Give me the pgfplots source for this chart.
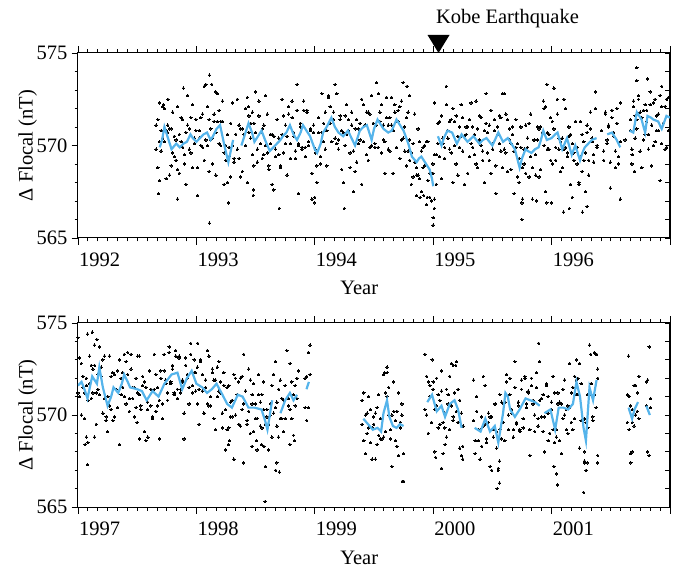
\documentclass[border=0pt]{standalone}
\usepackage{pgfplots}
\pgfplotsset{compat=1.18}
\usepackage{pgfplotstable}
\usepackage{fontspec}
\setmainfont{Liberation Serif}
\definecolor{runblue}{RGB}{85,180,235}

% ---------------- top panel: daily values (two per row) ----------------
\pgfplotstableread{
x a b
1992.660 571.1 569.8
1992.674 568.8 571.4
1992.688 570.2 568.1
1992.702 569.7 570.8
1992.716 572.1 570.4
1992.730 570.2 572.0
1992.744 570.8 568.2
1992.758 571.1 570.7
1992.772 568.4 570.9
1992.786 570.9 568.9
1992.800 569.6 571.8
1992.814 570.5 569.4
1992.828 569.2 570.3
1992.842 572.1 568.7
1992.856 568.5 570.6
1992.870 570.2 571.5
1992.884 571.4 569.9
1992.898 569.5 569.0
1992.912 567.9 570.7
1992.926 571.1 572.7
1992.940 570.9 569.8
1992.954 569.6 571.5
1992.968 572.2 568.8
1992.982 570.1 570.4
1992.996 570.8 571.4
1993.010 568.8 567.3
1993.024 570.4 570.8
1993.038 571.5 570.0
1993.052 569.9 571.7
1993.066 573.2 569.2
1993.080 570.3 573.3
1993.094 572.1 570.0
1993.108 568.6 571.4
1993.122 570.9 570.3
1993.136 570.4 569.0
1993.150 571.7 571.3
1993.164 568.4 570.7
1993.178 571.3 572.8
1993.192 571.9 570.1
1993.206 570.0 571.3
1993.220 572.4 571.3
1993.234 569.6 567.9
1993.248 570.0 569.2
1993.262 568.0 570.6
1993.276 569.9 569.4
1993.290 571.2 568.3
1993.304 570.0 572.3
1993.318 569.1 569.3
1993.332 570.6 570.6
1993.346 572.5 569.8
1993.360 569.3 571.1
1993.374 570.9 568.3
1993.388 568.6 570.9
1993.402 570.6 570.6
1993.416 572.0 570.0
1993.430 568.0 572.6
1993.444 571.6 570.7
1993.458 570.4 571.2
1993.472 571.8 569.5
1993.486 568.9 571.2
1993.500 572.9 570.7
1993.514 569.8 569.1
1993.528 571.6 572.4
1993.542 570.7 570.1
1993.556 569.3 570.9
1993.570 571.1 569.5
1993.584 570.0 572.7
1993.598 571.7 569.6
1993.612 568.7 568.9
1993.626 570.1 570.6
1993.640 570.6 567.9
1993.654 567.6 570.5
1993.668 569.4 569.8
1993.682 571.4 571.4
1993.696 570.4 569.5
1993.710 568.9 568.8
1993.724 572.5 570.6
1993.738 569.6 571.6
1993.752 571.1 570.1
1993.766 570.5 568.4
1993.780 572.1 571.7
1993.794 569.3 570.1
1993.808 571.5 572.4
1993.822 570.7 570.5
1993.836 569.7 569.3
1993.850 571.9 573.3
1993.864 570.0 570.1
1993.878 571.0 571.2
1993.892 569.8 569.9
1993.906 571.9 572.4
1993.920 569.9 569.4
1993.934 571.9 571.8
1993.948 570.2 570.0
1993.962 570.9 570.8
1993.976 568.5 567.1
1993.990 570.7 571.1
1994.004 569.6 569.8
1994.018 568.9 568.0
1994.032 571.5 570.7
1994.046 569.0 569.4
1994.060 570.7 572.8
1994.074 570.2 571.2
1994.088 571.8 569.8
1994.102 568.9 570.8
1994.116 572.6 572.7
1994.130 571.2 572.1
1994.144 570.2 570.2
1994.158 571.8 571.4
1994.172 573.3 570.4
1994.186 570.1 572.8
1994.200 570.3 569.8
1994.214 571.6 571.4
1994.228 568.7 570.8
1994.242 570.7 568.0
1994.256 570.0 571.6
1994.270 572.2 570.6
1994.284 570.8 571.4
1994.298 569.6 568.8
1994.312 571.1 571.8
1994.326 567.5 569.7
1994.340 568.6 570.9
1994.354 571.4 569.1
1994.368 570.1 570.9
1994.382 571.2 570.3
1994.396 567.9 572.5
1994.410 572.2 570.2
1994.424 571.1 571.1
1994.438 569.5 571.8
1994.452 571.8 569.2
1994.466 569.9 571.7
1994.480 572.7 570.0
1994.494 571.2 571.2
1994.508 569.9 570.1
1994.522 571.1 573.4
1994.536 572.8 569.9
1994.550 571.8 571.3
1994.564 569.6 572.2
1994.578 571.1 570.3
1994.592 570.2 568.5
1994.606 572.6 571.5
1994.620 569.8 571.1
1994.634 571.5 569.7
1994.648 571.1 572.6
1994.662 568.5 570.8
1994.676 572.2 571.8
1994.690 571.3 569.9
1994.704 571.9 571.3
1994.718 569.3 572.1
1994.732 572.4 570.3
1994.746 570.4 573.4
1994.760 571.0 569.7
1994.774 568.9 571.5
1994.788 571.8 569.7
1994.802 569.2 570.3
1994.816 569.6 567.9
1994.830 568.3 570.1
1994.844 571.7 569.1
1994.858 568.8 568.4
1994.872 568.4 570.9
1994.886 570.2 568.2
1994.900 567.5 569.7
1994.914 569.9 568.8
1994.928 568.9 570.0
1994.942 570.2 566.8
1994.956 568.1 570.2
1994.970 567.2 568.5
1994.984 568.5 567.0
1994.998 569.0 568.5
1995.012 569.5 572.3
1995.026 567.9 569.5
1995.040 571.2 570.1
1995.054 569.4 571.3
1995.068 571.6 568.2
1995.082 570.1 570.4
1995.096 569.3 569.9
1995.110 573.2 572.2
1995.124 570.4 570.8
1995.138 571.3 569.8
1995.152 569.6 571.4
1995.166 572.0 568.0
1995.180 571.3 570.0
1995.194 569.0 571.6
1995.208 570.5 568.4
1995.222 569.9 571.0
1995.236 572.2 570.5
1995.250 569.7 571.5
1995.264 570.5 567.9
1995.278 571.0 570.6
1995.292 568.5 571.0
1995.306 571.4 569.4
1995.320 570.1 572.3
1995.334 571.0 569.9
1995.348 569.5 570.6
1995.362 572.4 569.0
1995.376 568.8 570.9
1995.390 570.3 571.6
1995.404 571.5 570.0
1995.418 569.7 569.2
1995.432 568.0 570.8
1995.446 571.2 572.8
1995.460 570.7 569.6
1995.474 569.2 571.1
1995.488 571.9 568.5
1995.502 569.8 570.1
1995.516 570.8 571.4
1995.530 568.9 567.4
1995.544 570.6 571.0
1995.558 571.6 570.1
1995.572 569.7 571.5
1995.586 572.8 568.8
1995.600 569.8 572.8
1995.614 571.7 569.6
1995.628 568.6 571.4
1995.642 570.9 570.3
1995.656 570.1 568.7
1995.670 571.0 570.6
1995.684 567.4 569.7
1995.698 569.9 571.4
1995.712 570.1 568.3
1995.726 568.0 569.3
1995.740 571.0 569.9
1995.754 568.8 567.1
1995.768 569.8 569.0
1995.782 568.5 571.1
1995.796 570.4 569.9
1995.810 571.2 568.3
1995.824 569.4 571.7
1995.838 567.1 568.8
1995.852 570.3 570.3
1995.866 568.4 569.5
1995.880 570.3 571.0
1995.894 570.9 568.3
1995.908 568.7 571.0
1995.922 570.7 570.7
1995.936 572.0 570.0
1995.950 567.5 572.1
1995.964 570.7 569.8
1995.978 569.8 570.6
1995.992 571.5 569.2
1996.006 569.0 571.3
1996.020 573.1 570.9
1996.034 569.9 569.2
1996.048 571.7 572.5
1996.062 570.4 569.8
1996.076 568.6 570.2
1996.090 570.4 568.8
1996.104 569.8 572.5
1996.118 572.0 569.9
1996.132 569.4 569.6
1996.146 570.5 571.0
1996.160 570.6 567.9
1996.174 567.2 570.1
1996.188 569.2 569.6
1996.202 571.3 571.3
1996.216 569.9 569.0
1996.230 568.0 567.9
1996.244 571.3 569.4
1996.258 568.6 570.6
1996.272 570.2 569.2
1996.286 569.6 567.5
1996.300 571.1 570.7
1996.314 568.4 569.2
1996.328 570.9 571.8
1996.342 570.4 570.2
1996.356 569.5 569.1
1996.370 572.0 572.9
1996.384 569.9 570.0
1996.440 569.7 569.2
1996.454 571.8 571.7
1996.468 570.3 570.1
1996.482 571.1 571.0
1996.496 569.1 567.7
1996.510 571.5 571.9
1996.524 570.5 570.7
1996.538 569.7 568.8
1996.552 572.0 571.2
1996.566 569.0 569.4
1996.580 570.2 572.3
1996.664 570.8 571.4
1996.678 569.8 569.0
1996.692 572.4 572.1
1996.706 570.4 571.6
1996.720 571.4 570.9
1996.734 572.7 572.5
1996.748 569.7 571.8
1996.762 571.5 568.8
1996.776 570.3 571.9
1996.790 572.2 570.6
1996.804 571.3 571.9
1996.818 570.6 569.8
1996.832 572.2 572.9
1996.846 568.9 571.1
1996.860 570.0 572.3
1996.874 572.5 570.2
1996.888 570.8 571.6
1996.902 571.7 570.8
1996.916 568.1 572.7
1996.930 572.1 570.1
1996.944 571.2 571.2
1996.958 569.8 572.1
1996.972 572.5 569.9
1996.986 570.8 572.6
}\topblack

\pgfplotstableread{
x y
1992.69 572.3
1992.72 572.2
1992.76 572.5
1992.68 567.4
1992.84 567.1
1992.89 573.1
1993.11 573.8
1993.13 573.3
1993.16 572.9
1993.11 565.8
1993.27 566.9
1993.44 572.1
1993.48 567.6
1993.48 567.3
1993.70 566.6
1993.86 567.4
1994.00 567.2
1994.00 566.9
1994.25 566.6
1994.78 573.2
1994.80 572.7
1994.86 567.3
1994.89 567.2
1994.92 567.3
1994.95 567.2
1995.00 565.7
1995.00 566.1
1995.01 566.6
1995.01 567.1
1995.75 566.9
1995.75 566.0
1995.87 567.0
1995.96 566.9
1996.00 566.9
1996.10 566.4
1996.15 566.6
1996.26 566.4
1996.30 566.7
1996.58 567.1
1995.96 573.3
1995.93 572.4
1996.72 574.2
1996.72 573.5
1996.81 573.6
1996.93 573.2
1996.70 568.6
1996.68 569.5
1996.42 570.8
1996.62 570.3
}\topout

\pgfplotstableread{
x y
1992.69 569.9
1992.71 570.3
1992.73 571.0
1992.76 570.4
1992.79 569.8
1992.83 570.1
1992.86 569.9
1992.89 570.1
1992.92 570.2
1992.95 570.6
1992.97 570.4
1993.00 570.2
1993.03 570.4
1993.06 570.6
1993.09 570.7
1993.12 570.3
1993.14 570.5
1993.17 570.9
1993.20 571.1
1993.22 570.5
1993.24 569.9
1993.27 569.1
1993.29 569.7
1993.31 570.3
1993.345 nan
1993.38 570.0
1993.41 570.6
1993.44 571.2
1993.47 570.7
1993.49 570.2
1993.52 570.5
1993.55 570.8
1993.58 570.3
1993.62 569.7
1993.65 569.9
1993.68 570.1
1993.71 570.3
1993.73 570.5
1993.76 570.7
1993.79 571.1
1993.82 570.6
1993.85 570.3
1993.88 570.7
1993.90 571.1
1993.93 570.8
1993.96 570.5
1994.00 569.8
1994.02 569.6
1994.05 570.1
1994.07 570.7
1994.10 571.0
1994.14 571.5
1994.17 571.0
1994.20 570.7
1994.24 570.5
1994.28 570.8
1994.31 570.4
1994.34 570.0
1994.38 570.8
1994.41 571.0
1994.44 571.1
1994.48 570.3
1994.50 570.9
1994.53 571.4
1994.58 570.9
1994.62 570.7
1994.65 570.8
1994.69 571.4
1994.72 571.1
1994.75 570.8
1994.79 570.1
1994.82 569.4
1994.86 569.1
1994.88 569.3
1994.90 569.4
1994.93 569.1
1994.95 568.9
1994.97 568.7
1994.99 568.2
1995.00 567.8
1995.02 nan
1995.04 570.5
1995.07 570.0
1995.09 570.4
1995.12 570.8
1995.16 570.7
1995.20 570.1
1995.24 570.6
1995.29 570.2
1995.34 570.5
1995.39 570.1
1995.42 570.3
1995.45 570.4
1995.50 570.0
1995.55 570.7
1995.59 570.2
1995.63 570.4
1995.66 570.1
1995.69 569.8
1995.71 569.3
1995.73 568.8
1995.75 569.3
1995.78 569.8
1995.80 569.7
1995.83 569.6
1995.86 569.8
1995.89 569.9
1995.91 570.3
1995.93 570.8
1995.96 570.3
1996.00 570.4
1996.03 570.6
1996.05 570.7
1996.09 569.8
1996.13 570.4
1996.17 569.5
1996.20 570.0
1996.22 569.6
1996.24 569.2
1996.26 569.6
1996.28 569.9
1996.31 570.1
1996.34 570.3
1996.38 570.4
1996.42 nan
1996.47 570.6
1996.51 570.7
1996.55 570.3
1996.58 569.9
1996.62 nan
1996.66 570.8
1996.69 570.7
1996.72 571.8
1996.74 571.6
1996.76 571.4
1996.79 570.7
1996.81 571.6
1996.84 571.5
1996.86 571.4
1996.90 571.3
1996.93 570.9
1996.97 571.6
1997.00 571.5
}\topblue

% ---------------- bottom panel ----------------
\pgfplotstableread{
x a b
1997.000 571.2 574.2
1997.014 573.1 571.0
1997.028 570.0 572.8
1997.042 572.1 571.5
1997.056 571.2 569.8
1997.070 572.0 571.6
1997.084 568.5 570.8
1997.098 571.7 573.2
1997.112 572.7 570.9
1997.126 571.2 572.5
1997.140 573.8 572.7
1997.154 571.2 569.5
1997.168 572.2 571.4
1997.182 571.1 573.7
1997.196 572.6 572.1
1997.210 573.0 570.1
1997.224 570.9 573.2
1997.238 569.7 569.9
1997.252 571.0 571.0
1997.266 573.2 570.5
1997.280 570.3 572.1
1997.294 572.3 569.7
1997.308 569.9 572.2
1997.322 571.4 571.4
1997.336 572.4 570.4
1997.350 568.4 573.0
1997.364 572.0 571.1
1997.378 571.5 572.3
1997.392 573.3 571.0
1997.406 570.6 572.9
1997.420 573.4 572.2
1997.434 570.9 570.2
1997.448 572.5 573.3
1997.462 571.5 570.9
1997.476 569.9 571.5
1997.490 572.0 570.4
1997.504 571.2 573.2
1997.518 573.2 571.1
1997.532 570.3 570.5
1997.546 571.6 572.1
1997.560 571.8 569.1
1997.574 568.6 571.5
1997.588 570.3 570.7
1997.602 572.4 572.4
1997.616 571.4 570.5
1997.630 569.9 569.8
1997.644 573.3 571.4
1997.658 570.2 572.2
1997.672 571.5 570.5
1997.686 570.8 568.7
1997.700 572.4 572.0
1997.714 569.8 570.6
1997.728 572.4 573.3
1997.742 571.9 571.7
1997.756 571.2 570.8
1997.770 573.7 573.4
1997.784 571.7 571.8
1997.798 572.5 572.7
1997.812 571.1 571.2
1997.826 573.2 573.5
1997.840 571.4 570.9
1997.854 573.2 573.1
1997.868 571.4 571.2
1997.882 571.9 571.8
1997.896 570.1 568.7
1997.910 572.7 573.1
1997.924 572.0 572.2
1997.938 571.5 570.6
1997.952 573.9 573.3
1997.966 571.2 571.6
1997.980 572.3 573.0
1997.994 571.3 572.3
1998.008 572.6 570.6
1998.022 569.5 571.4
1998.036 572.9 573.0
1998.050 571.3 572.2
1998.064 570.1 570.1
1998.078 571.9 571.5
1998.092 573.5 570.6
1998.106 570.5 573.2
1998.120 571.0 570.5
1998.134 572.5 572.3
1998.148 569.8 571.9
1998.162 571.9 569.2
1998.176 571.0 572.6
1998.190 572.9 571.3
1998.204 571.2 571.8
1998.218 570.1 569.3
1998.232 571.6 572.3
1998.246 568.1 570.3
1998.260 569.2 571.5
1998.274 571.6 569.3
1998.288 569.9 570.7
1998.302 570.8 569.9
1998.316 567.6 572.2
1998.330 572.0 570.0
1998.344 571.1 571.1
1998.358 569.5 571.8
1998.372 572.0 569.4
1998.386 570.3 572.1
1998.400 573.3 570.6
1998.414 571.3 571.3
1998.428 569.5 569.7
1998.442 570.2 572.5
1998.456 571.9 569.0
1998.470 571.1 570.6
1998.484 569.1 571.7
1998.498 570.6 569.8
1998.512 569.8 568.1
1998.526 572.2 571.1
1998.540 569.4 570.7
1998.554 571.1 569.3
1998.568 570.3 571.8
1998.582 567.2 569.5
1998.596 570.3 569.9
1998.610 569.5 568.1
1998.624 570.6 570.0
1998.638 568.8 571.6
1998.652 572.2 570.1
1998.666 570.4 572.9
1998.680 570.7 569.4
1998.694 568.8 571.4
1998.708 571.9 569.8
1998.722 569.8 570.9
1998.736 570.8 569.1
1998.750 569.8 571.6
1998.764 573.5 570.9
1998.778 570.9 570.5
1998.792 570.3 572.8
1998.806 571.8 569.8
1998.820 568.9 571.1
1998.834 571.6 570.5
1998.848 570.9 572.0
1998.862 572.4 nan
1998.918 572.0 570.4
1998.932 569.7 572.1
1998.946 573.4 570.4
1998.960 573.8 572.2
1999.400 570.8 569.5
1999.414 568.6 571.2
1999.428 570.0 567.9
1999.442 569.0 570.1
1999.456 571.0 569.3
1999.470 568.5 570.3
1999.484 569.3 567.6
1999.498 569.9 569.5
1999.512 567.6 570.1
1999.526 570.4 568.4
1999.540 568.9 571.1
1999.554 569.8 568.7
1999.568 568.7 569.8
1999.582 572.2 568.8
1999.596 569.1 571.2
1999.610 571.0 572.3
1999.624 571.5 570.0
1999.638 569.2 568.7
1999.652 567.2 570.0
1999.666 570.2 571.8
1999.680 569.7 568.6
1999.694 568.3 570.2
1999.708 571.2 567.8
1999.722 569.3 569.6
1999.736 570.0 570.6
1999.750 567.9 566.4
1999.930 570.3 573.3
1999.944 572.1 570.0
1999.958 569.0 571.8
1999.972 571.6 571.0
1999.986 571.0 569.6
2000.000 571.8 571.4
2000.014 568.0 570.3
2000.028 570.5 572.0
2000.042 571.1 569.3
2000.056 569.5 570.8
2000.070 572.4 571.3
2000.084 569.6 567.9
2000.098 570.1 569.3
2000.112 568.8 571.4
2000.126 571.1 570.6
2000.140 572.1 569.2
2000.154 570.5 572.8
2000.168 569.7 569.9
2000.182 571.2 571.2
2000.196 572.9 570.2
2000.210 569.6 571.4
2000.224 570.8 568.2
2000.238 567.8 570.1
2000.252 569.4 569.4
2000.340 571.9 569.7
2000.354 568.6 567.9
2000.368 570.2 571.0
2000.382 569.2 568.6
2000.396 567.6 569.2
2000.410 569.9 568.3
2000.424 569.4 572.1
2000.438 571.6 569.5
2000.452 568.5 568.7
2000.466 569.6 570.1
2000.480 569.9 567.2
2000.494 567.0 569.9
2000.508 568.8 569.2
2000.522 570.6 570.6
2000.536 569.1 568.2
2000.550 567.1 567.0
2000.564 571.1 569.2
2000.578 568.7 570.7
2000.592 570.6 569.6
2000.606 570.7 568.6
2000.620 572.2 571.8
2000.634 569.2 570.0
2000.648 571.1 572.0
2000.662 570.3 570.1
2000.676 569.2 568.8
2000.690 571.5 572.9
2000.704 569.5 569.6
2000.718 570.5 570.7
2000.732 569.1 569.2
2000.746 571.4 571.9
2000.760 569.8 569.3
2000.774 572.1 572.0
2000.788 570.6 570.4
2000.802 571.3 571.2
2000.816 569.2 567.8
2000.830 571.6 572.0
2000.844 570.6 570.8
2000.858 570.0 569.1
2000.872 572.3 571.5
2000.886 569.4 569.8
2000.900 570.8 572.9
2000.914 569.9 570.9
2000.928 571.1 569.1
2000.942 568.0 569.9
2000.956 571.6 571.7
2000.970 570.1 571.0
2000.984 569.0 569.0
2000.998 570.7 570.3
2001.012 572.1 569.2
2001.026 568.5 571.2
2001.040 569.2 568.8
2001.054 571.2 570.6
2001.068 568.6 570.7
2001.082 570.6 567.9
2001.096 569.8 571.4
2001.110 571.9 570.0
2001.124 570.3 569.2
2001.138 570.5 569.0
2001.152 570.4 572.8
2001.166 569.6 571.2
2001.180 569.2 571.5
2001.194 572.1 569.8
2001.208 571.1 571.9
2001.222 572.0 571.1
2001.236 568.2 572.8
2001.250 571.7 569.7
2001.264 569.7 569.7
2001.278 567.5 569.8
2001.292 569.6 567.0
2001.306 569.3 571.1
2001.320 573.8 571.1
2001.334 571.7 571.7
2001.348 569.7 569.9
2001.362 571.1 573.4
2001.376 573.3 570.4
2001.390 572.5 572.0
2001.640 571.1 569.6
2001.654 569.2 571.0
2001.668 570.5 567.9
2001.682 569.6 570.3
2001.696 571.6 569.4
2001.710 570.0 571.6
2001.724 571.2 570.2
2001.738 572.1 569.8
2001.800 570.5 571.8
2001.812 568.0 571.9
2001.824 567.8 573.7
2001.836 570.9 570.4
}\botblack

\pgfplotstableread{
x y
1997.08 574.4
1997.12 574.5
1997.16 574.1
1997.08 567.3
1997.07 568.8
1997.14 568.8
1997.06 568.4
1997.25 569.1
1997.52 568.7
1997.59 568.8
1997.50 569.6
1998.01 573.9
1998.27 568.4
1998.28 568.6
1998.40 567.4
1998.47 568.3
1998.51 568.6
1998.55 568.4
1998.57 568.3
1998.58 565.3
1998.67 567.0
1998.68 567.4
1998.70 566.9
1998.79 568.4
1998.83 568.6
1999.61 572.6
1999.59 572.3
1999.74 566.4
1999.99 573.0
2000.02 567.7
2000.07 567.1
2000.10 568.4
2000.17 572.7
2000.19 572.7
2000.25 568.3
2000.25 567.6
2000.54 566.0
2000.56 566.3
2000.56 567.5
2000.89 573.9
2001.02 567.2
2001.04 566.8
2001.05 566.2
2000.97 568.6
2001.28 568.0
2001.28 567.4
2001.27 565.8
2001.30 567.4
2001.39 567.8
2001.39 567.4
2001.33 573.3
2001.38 573.3
2001.21 573.0
2001.65 573.2
2001.67 567.4
2001.68 568.0
}\botout

\pgfplotstableread{
x y
1997.00 571.6
1997.03 571.8
1997.06 571.3
1997.08 570.9
1997.10 571.5
1997.12 572.1
1997.14 571.9
1997.16 571.7
1997.18 572.6
1997.21 571.5
1997.23 571.0
1997.25 570.5
1997.28 571.0
1997.30 571.5
1997.34 571.2
1997.37 571.7
1997.39 572.2
1997.42 571.8
1997.44 571.5
1997.50 571.4
1997.54 571.3
1997.58 570.8
1997.63 571.3
1997.68 571.0
1997.73 571.7
1997.79 572.2
1997.84 572.3
1997.88 571.4
1997.92 572.0
1997.96 572.4
1998.00 571.7
1998.05 571.5
1998.09 571.2
1998.13 571.4
1998.17 571.7
1998.22 571.1
1998.26 570.6
1998.30 570.4
1998.35 571.1
1998.39 571.0
1998.44 570.4
1998.49 570.4
1998.55 570.3
1998.58 569.7
1998.60 569.2
1998.62 570.0
1998.64 570.8
1998.68 nan
1998.71 570.1
1998.75 570.8
1998.79 571.2
1998.82 570.8
1998.85 571.1
1998.89 nan
1998.93 571.4
1998.95 571.8
1999.20 nan
1999.41 569.8
1999.45 569.5
1999.49 569.2
1999.53 569.3
1999.56 569.1
1999.58 570.1
1999.61 570.8
1999.63 569.9
1999.66 569.4
1999.69 569.3
1999.72 569.5
1999.75 569.4
1999.85 nan
1999.95 570.7
1999.99 571.1
2000.03 570.2
2000.07 570.5
2000.10 569.9
2000.14 570.6
2000.18 570.8
2000.21 570.3
2000.24 569.3
2000.30 nan
2000.35 569.3
2000.40 569.1
2000.44 569.8
2000.48 569.1
2000.52 569.4
2000.55 568.5
2000.59 570.1
2000.61 571.2
2000.63 571.0
2000.65 570.3
2000.69 569.9
2000.73 570.3
2000.78 570.9
2000.82 570.8
2000.86 570.7
2000.90 570.5
2000.92 nan
2000.94 570.1
2000.99 570.3
2001.03 569.2
2001.06 570.4
2001.10 570.4
2001.14 570.3
2001.18 570.6
2001.21 571.8
2001.24 571.0
2001.27 569.3
2001.29 568.6
2001.32 571.5
2001.35 570.8
2001.38 571.9
2001.50 nan
2001.65 570.4
2001.68 569.8
2001.70 570.3
2001.73 570.7
2001.76 nan
2001.80 570.5
2001.83 570.0
}\botblue

\pgfplotsset{
  panel/.style={
    scale only axis, width=592pt, height=185pt,
    anchor=south west,
    ymin=565, ymax=575,
    ytick={565,570,575}, yticklabels={565,570,575},
    minor y tick num=4, minor x tick num=11,
    xtick pos=both, ytick pos=left,
    tick align=outside,
    major tick length=6.5pt, minor tick length=3.5pt,
    every tick/.style={black, line width=0.8pt},
    axis line style={line width=1pt},
    xticklabel style={anchor=north west, inner sep=0pt, xshift=1pt, yshift=-8pt},
    yticklabel style={anchor=east, inner sep=0pt, xshift=-4pt},
    ylabel={Δ Flocal (nT)},
    ylabel style={at={(axis description cs:-0.085,0.5)}, anchor=center},
    xlabel={Year},
    xlabel style={at={(axis description cs:0.475,0)}, anchor=base, yshift=-57pt},
    clip mode=individual,
  },
  rightticks/.style={
    scale only axis, width=592pt, height=185pt,
    anchor=south west,
    ymin=565, ymax=575,
    hide x axis, axis y line*=right,
    ytick={565,570,575}, yticklabels={},
    minor y tick num=4,
    tick align=inside,
    major tick length=5pt, minor tick length=5pt,
    every tick/.style={black, line width=0.8pt},
    axis line style={line width=1pt},
  },
  dots/.style={only marks, mark=*, mark size=1.2pt, mark options={fill=black, draw=black, line width=0pt}},
  runline/.style={runblue, line width=2.2pt, unbounded coords=jump, no markers},
}

\begin{document}
\begin{tikzpicture}[font=\fontsize{20.5pt}{24pt}\selectfont]
\path[use as bounding box] (0,0) rectangle (686pt,571pt);

% ---------- top panel ----------
\begin{axis}[panel, at={(78pt,333pt)},
  xmin=1992, xmax=1997,
  xtick={1992,1993,1994,1995,1996,1997},
  xticklabels={1992,1993,1994,1995,1996,{}}]
\addplot[dots] table[x=x,y=a] {\topblack};
\addplot[dots] table[x=x,y=b] {\topblack};
\addplot[dots] table[x=x,y=y] {\topout};
\addplot[runline] table[x=x,y=y] {\topblue};
\fill (axis cs:1995.045,575) -- ++(-11pt,18pt) -- ++(22pt,0pt) -- cycle;
\node[anchor=base west] at (axis cs:1995.045,575) [xshift=-6pt, yshift=29pt] {Kobe Earthquake};
\end{axis}
\begin{axis}[rightticks, at={(78pt,333pt)}, xmin=1992, xmax=1997]
\end{axis}

% ---------- bottom panel ----------
\begin{axis}[panel, at={(78pt,64pt)}, height=184pt,
  xmin=1997, xmax=2002,
  xtick={1997,1998,1999,2000,2001,2002},
  xticklabels={1997,1998,1999,2000,2001,{}}]
\addplot[dots] table[x=x,y=a] {\botblack};
\addplot[dots] table[x=x,y=b] {\botblack};
\addplot[dots] table[x=x,y=y] {\botout};
\addplot[runline] table[x=x,y=y] {\botblue};
\end{axis}
\begin{axis}[rightticks, at={(78pt,64pt)}, height=184pt, xmin=1997, xmax=2002]
\end{axis}
\end{tikzpicture}
\end{document}
